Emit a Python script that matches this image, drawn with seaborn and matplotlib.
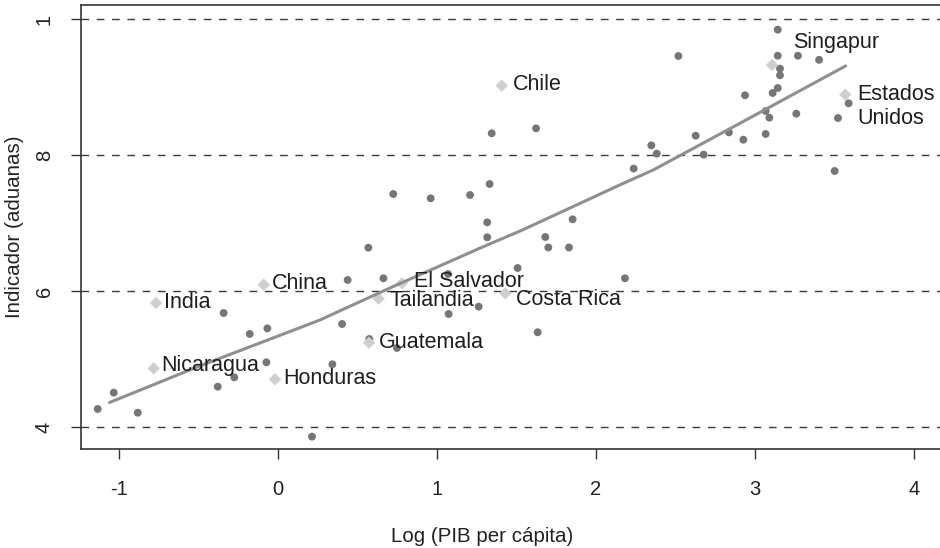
import matplotlib
matplotlib.use("Agg")
import matplotlib.pyplot as plt
import seaborn as sns
import pandas as pd
import numpy as np

# ---------------- data ----------------
pts_x = [-1.134, -1.033, -0.882, -0.342, -0.178, -0.067, -0.379, -0.275, -0.073, 0.214,
         0.438, 0.663, 0.568, 0.403, 0.342, 0.574, 0.748, 0.725, 0.960, 1.208,
         1.331, 1.344, 1.623, 1.316, 1.316, 1.681, 1.700, 1.830, 1.853, 1.069,
         1.507, 1.262, 1.073, 1.633, 2.182, 2.237, 2.348, 2.382, 2.518, 2.627,
         2.677, 2.836, 2.927, 2.937, 3.067, 3.067, 3.090, 3.111, 3.143, 3.143,
         3.143, 3.157, 3.157, 3.260, 3.270, 3.403, 3.501, 3.522, 3.589]
pts_y = [4.265, 4.505, 4.210, 5.676, 5.368, 5.451, 4.593, 4.730, 4.951, 3.858,
         6.162, 6.187, 6.637, 5.515, 4.922, 5.294, 5.162, 7.426, 7.363, 7.412,
         7.574, 8.319, 8.392, 7.010, 6.790, 6.794, 6.640, 6.640, 7.054, 6.250,
         6.338, 5.770, 5.662, 5.393, 6.187, 7.800, 8.142, 8.020, 9.456, 8.284,
         8.005, 8.333, 8.225, 8.878, 8.647, 8.309, 8.549, 8.912, 9.843, 9.460,
         8.985, 9.270, 9.172, 8.608, 9.460, 9.400, 7.765, 8.544, 8.760]

label_names = ["Singapur", "Chile", "India", "China", "El Salvador", "Tailandia",
               "Costa Rica", "Guatemala", "Nicaragua", "Honduras", "Estados\nUnidos"]
label_x = [3.107, 1.407, -0.767, -0.090, 0.780, 0.633, 1.430, 0.572, -0.782, -0.019, 3.568]
label_y = [9.324, 9.020, 5.824, 6.093, 6.113, 5.887, 5.966, 5.240, 4.863, 4.701, 8.887]

smooth_x = [-1.06, -0.50, 0.26, 0.70, 1.27, 1.54, 2.15, 2.36, 2.90, 3.57]
smooth_y = [4.36, 4.89, 5.57, 6.04, 6.63, 6.90, 7.56, 7.78, 8.46, 9.31]

x_ticks = [-1, 0, 1, 2, 3, 4]
y_ticks = [4, 6, 8, 10]
y_tick_labels = ["4", "6", "8", "1"]

x_title = "Log (PIB per cápita)"
y_title = "Indicador (aduanas)"

# ---------------- layout / style ----------------
label_offsets_px = {  # (dx, dy) in pixels, text anchor left-center
    "Singapur": (21, 22), "Chile": (11, 1), "India": (8, 0), "China": (8, 1),
    "El Salvador": (12, 2), "Tailandia": (11, -2), "Costa Rica": (11, -6),
    "Guatemala": (10, 0), "Nicaragua": (8, 3), "Honduras": (8, 1),
    "Estados\nUnidos": (12, -12),
}

sns.set_style("white")
plt.rcParams["font.family"] = ["Liberation Sans", "DejaVu Sans"]

W, H = 940, 548
fig = plt.figure(figsize=(W / 100, H / 100), dpi=100)
L, R, T, B = 81, 940, 5, 449
ax = fig.add_axes([L / W, 1 - B / H, (R - L) / W, (B - T) / H])

df_pts = pd.DataFrame({"x": pts_x, "y": pts_y})
df_lab = pd.DataFrame({"x": label_x, "y": label_y, "name": label_names})
df_fit = pd.DataFrame({"x": smooth_x, "y": smooth_y})

for yv in y_ticks:
    ax.axhline(yv, color="#3a3a3a", lw=1.0, ls=(0, (5.5, 5.5)), zorder=1)

sns.scatterplot(data=df_pts, x="x", y="y", ax=ax, color="#767676", s=32,
                edgecolor="none", marker="o", zorder=3, legend=False)
sns.scatterplot(data=df_lab, x="x", y="y", ax=ax, color="#cfcfcf", s=40,
                edgecolor="none", marker="D", zorder=3, legend=False)
sns.lineplot(data=df_fit, x="x", y="y", ax=ax, color="#8f8f8f", lw=2.2,
             sort=False, estimator=None, zorder=4, legend=False)

for nm, xv, yv in zip(label_names, label_x, label_y):
    dx, dy = label_offsets_px[nm]
    ax.annotate(nm, (xv, yv), xytext=(dx, dy), textcoords="offset pixels",
                ha="left", va="center", fontsize=15.5, color="#1e1e1e",
                linespacing=1.15, zorder=5)

ax.set_xlim((L - 278) / 159, (R - 278) / 159)
ax.set_ylim(10 - (B - 19) / 68, 10 - (T - 19) / 68)

ax.set_xticks(x_ticks)
ax.set_xticklabels([str(v) for v in x_ticks])
ax.set_yticks(y_ticks)
ax.set_yticklabels(y_tick_labels, rotation=90, va="center")

ax.tick_params(axis="both", which="both", direction="out", length=7.5, width=1.0,
               color="#333333", labelsize=14.5, labelcolor="#222222",
               bottom=True, left=True, top=False, right=False)
ax.tick_params(axis="x", pad=15)
ax.tick_params(axis="y", pad=12)

ax.set_xlabel(x_title, fontsize=14.8, color="#222222")
ax.set_ylabel(y_title, fontsize=14.8, color="#222222")
# x-title centred at pixel x=482, y=536; y-title centred at x=15
ax.xaxis.set_label_coords((482 - L) / (R - L), -(536 - B) / (B - T))
ax.xaxis.label.set_verticalalignment("center")
ax.yaxis.set_label_coords(-(L - 15) / (R - L), 0.5)
ax.yaxis.label.set_verticalalignment("center")

for side in ["left", "top", "bottom"]:
    ax.spines[side].set_color("#333333")
    ax.spines[side].set_linewidth(1.2)
ax.spines["right"].set_visible(False)
ax.grid(False)

fig.savefig("out.png", dpi=100)
